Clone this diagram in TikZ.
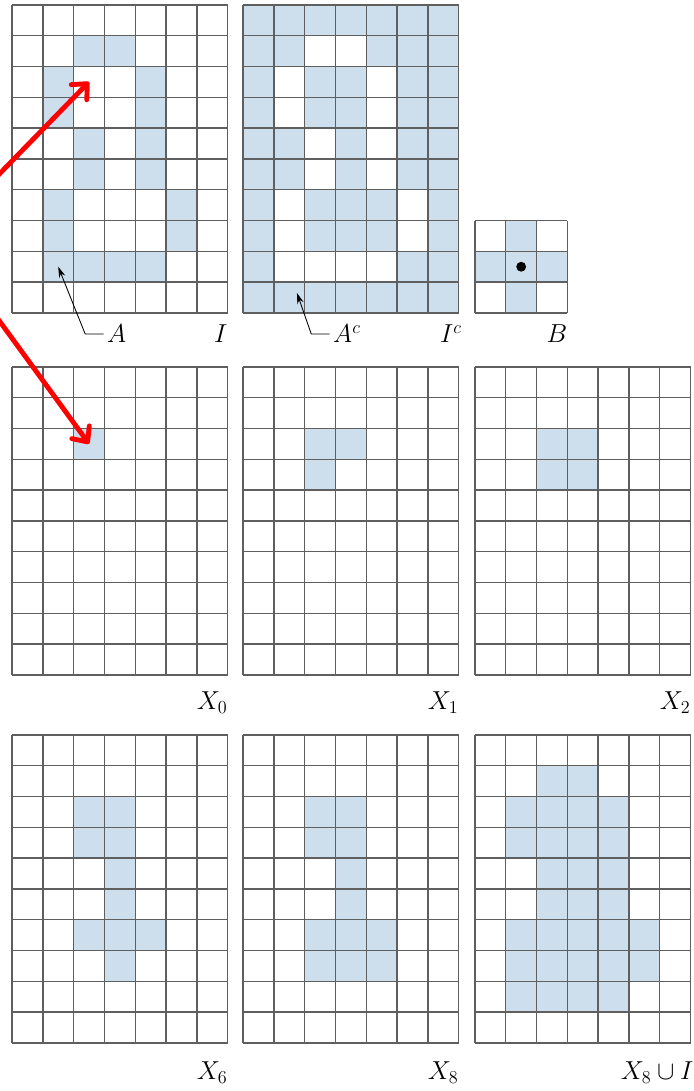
\RequirePackage{fix-cm}
\documentclass[tikz,border=0pt]{standalone}
\usepackage{amsmath}
\usepackage{xcolor}
\usetikzlibrary{arrows.meta}

\definecolor{cellblue}{RGB}{205,223,236}
\definecolor{gridgray}{RGB}{95,95,95}

% cells of the set A (row from top / column from left)
\newcommand{\cellsA}{1/2,1/3,2/1,2/4,3/1,3/4,4/2,4/4,5/2,5/4,6/1,6/5,7/1,7/5,8/1,8/2,8/3,8/4}

\tikzset{
  cell/.style={fill=cellblue},
  gridlines/.style={draw=gridgray,line width=1.3pt},
  leader/.style={draw=black,line width=0.8pt,-{Stealth[length=10pt,width=6pt]}},
  redarrow/.style={draw=red,line width=4.5pt,line cap=round,-{Straight Barb[length=11pt,width=20pt,round]}},
  lbl/.style={anchor=base east,inner sep=0pt}
}

\begin{document}
\begin{tikzpicture}[font=\fontsize{24}{28}\selectfont]
\useasboundingbox (0,0) rectangle (22.5,35.42);

% top row: I, I^c and B
\begin{scope}[shift={(0.39,25.26)}]
  \foreach \r/\c in \cellsA
    \fill[cell] (\c,9-\r) rectangle ++(1,1);
  \draw[gridlines] (0,0) grid (7,10);
  \coordinate (I-top) at (2.5,7.5);
  \coordinate (I-foot) at (1.5,1.5);
  \node[anchor=base west,inner sep=0pt] (A) at (3.08,-0.97) {$A$};
  \node[lbl] (I) at (7,-0.97) {$I$};
\end{scope}

\begin{scope}[shift={(7.89,25.26)}]
  \fill[cell] (0,0) rectangle (7,10);
  \foreach \r/\c in \cellsA
    \fill[white] (\c,9-\r) rectangle ++(1,1);
  \draw[gridlines] (0,0) grid (7,10);
  \coordinate (Ic-foot) at (1.75,0.65);
  \node[anchor=base west,inner sep=0pt] (Ac) at (2.92,-0.97) {$A^c$};
  \node[lbl] (Ic) at (7.1,-0.97) {$I^c$};
\end{scope}

\begin{scope}[shift={(15.42,25.26)}]
  \fill[cell] (1,0) rectangle (2,3);
  \fill[cell] (0,1) rectangle (3,2);
  \draw[gridlines] (0,0) grid (3,3);
  \fill (1.5,1.5) circle (0.16);
  \node[lbl] (B) at (3,-0.97) {$B$};
\end{scope}

\draw[leader] ([xshift=-3pt]A.west) -- ++(-0.6,0) -- (I-foot);
\draw[leader] ([xshift=-3pt]Ac.west) -- ++(-0.6,0) -- (Ic-foot);

% middle row: X_0, X_1, X_2
\begin{scope}[shift={(0.39,13.51)}]
  \fill[cell] (2,7) rectangle (3,8);
  \draw[gridlines] (0,0) grid (7,10);
  \coordinate (X0-top) at (2.5,7.5);
  \node[lbl] (X0) at (7,-1.14) {$X_0$};
\end{scope}

\begin{scope}[shift={(7.89,13.51)}]
  \foreach \r/\c in {2/2,2/3,3/2}
    \fill[cell] (\c,9-\r) rectangle ++(1,1);
  \draw[gridlines] (0,0) grid (7,10);
  \node[lbl] (X1) at (7,-1.14) {$X_1$};
\end{scope}

\begin{scope}[shift={(15.42,13.51)}]
  \fill[cell] (2,6) rectangle (4,8);
  \draw[gridlines] (0,0) grid (7,10);
  \node[lbl] (X2) at (7,-1.14) {$X_2$};
\end{scope}

% bottom row: X_6, X_8 and the union
\begin{scope}[shift={(0.39,1.56)}]
  \foreach \r/\c in {2/2,2/3,3/2,3/3,4/3,5/3,6/2,6/3,6/4,7/3}
    \fill[cell] (\c,9-\r) rectangle ++(1,1);
  \draw[gridlines] (0,0) grid (7,10);
  \node[lbl] (X6) at (7,-1.2) {$X_6$};
\end{scope}

\begin{scope}[shift={(7.89,1.56)}]
  \foreach \r/\c in {2/2,2/3,3/2,3/3,4/3,5/3,6/2,6/3,6/4,7/2,7/3,7/4}
    \fill[cell] (\c,9-\r) rectangle ++(1,1);
  \draw[gridlines] (0,0) grid (7,10);
  \node[lbl] (X8) at (7,-1.2) {$X_8$};
\end{scope}

\begin{scope}[shift={(15.42,1.56)}]
  \fill[cell] (2,8) rectangle (4,9);
  \fill[cell] (1,6) rectangle (5,8);
  \fill[cell] (2,4) rectangle (5,6);
  \fill[cell] (1,2) rectangle (6,4);
  \fill[cell] (1,1) rectangle (5,2);
  \draw[gridlines] (0,0) grid (7,10);
  \node[lbl] (XU) at (7.1,-1.2) {$X_8\cup I$};
\end{scope}

% red pointers from outside the frame
\coordinate (src) at (-2.01,27.73);
\draw[redarrow] (src) -- (I-top);
\draw[redarrow] (src) -- (X0-top);
\end{tikzpicture}
\end{document}
